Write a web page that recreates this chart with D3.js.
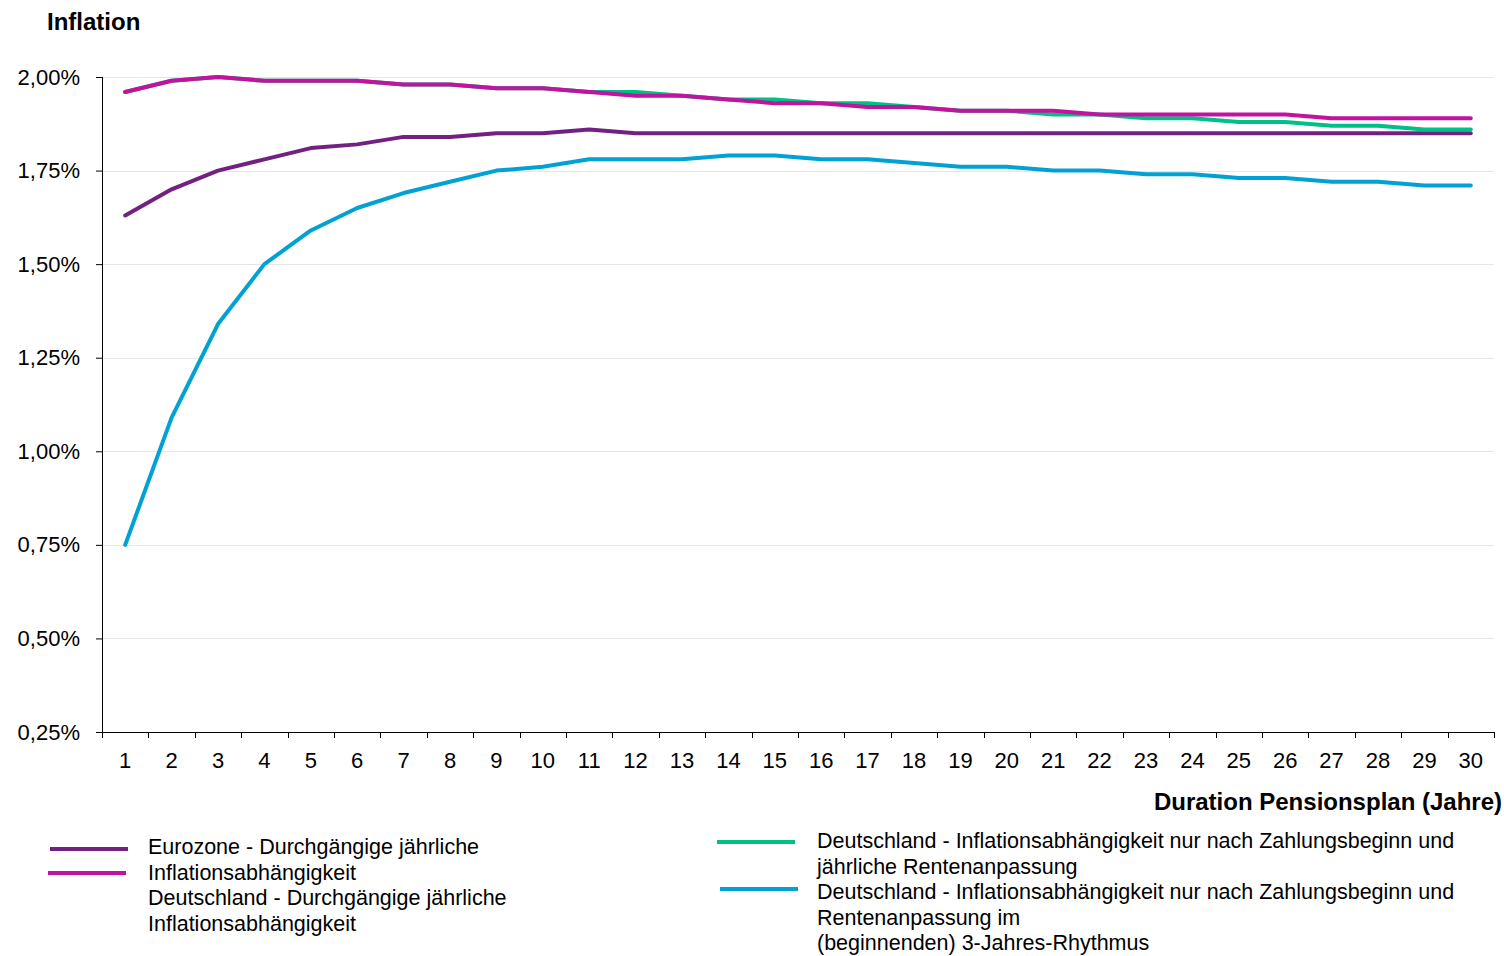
<!DOCTYPE html>
<html>
<head>
<meta charset="utf-8">
<script src="https://cdn.jsdelivr.net/npm/d3@7"></script>
<style>
  body { margin: 0; background: #fff; }
  svg text { font-family: "Liberation Sans", Arial, sans-serif; fill: #000; }
  .axis path, .axis line { stroke: #000; }
  .axis text { font-size: 22px; }
  .grid line { stroke: #e6e6e6; stroke-width: 1; }
  .series { fill: none; stroke-width: 4; stroke-linejoin: round; stroke-linecap: round; }
  .legend text { font-size: 21.5px; }
</style>
</head>
<body>
<script>
var years = d3.range(1, 31)
var yTicks = [0.25, 0.50, 0.75, 1.00, 1.25, 1.50, 1.75, 2.00]

var eurozone = [1.63,1.70,1.75,1.78,1.81,1.82,1.84,1.84,1.85,1.85,1.86,1.85,1.85,1.85,1.85,
                1.85,1.85,1.85,1.85,1.85,1.85,1.85,1.85,1.85,1.85,1.85,1.85,1.85,1.85,1.85]
var deAnnual = [1.96,1.99,2.00,1.99,1.99,1.99,1.98,1.98,1.97,1.97,1.96,1.95,1.95,1.94,1.93,
                1.93,1.92,1.92,1.91,1.91,1.91,1.90,1.90,1.90,1.90,1.90,1.89,1.89,1.89,1.89]
var dePayAnnual = [1.96,1.99,2.00,1.99,1.99,1.99,1.98,1.98,1.97,1.97,1.96,1.96,1.95,1.94,1.94,
                   1.93,1.93,1.92,1.91,1.91,1.90,1.90,1.89,1.89,1.88,1.88,1.87,1.87,1.86,1.86]
var dePay3Year = [0.75,1.09,1.34,1.50,1.59,1.65,1.69,1.72,1.75,1.76,1.78,1.78,1.78,1.79,1.79,
                  1.78,1.78,1.77,1.76,1.76,1.75,1.75,1.74,1.74,1.73,1.73,1.72,1.72,1.71,1.71]

var seriesNames = [
  ["Eurozone - Durchgängige jährliche", "Inflationsabhängigkeit"],
  ["Deutschland - Durchgängige jährliche", "Inflationsabhängigkeit"],
  ["Deutschland - Inflationsabhängigkeit nur nach Zahlungsbeginn und", "jährliche Rentenanpassung"],
  ["Deutschland - Inflationsabhängigkeit nur nach Zahlungsbeginn und", "Rentenanpassung im", "(beginnenden) 3-Jahres-Rhythmus"]
]
var colors = ["#722182", "#c2139f", "#00c08a", "#00a2d4"]

var width = 1504, height = 956
var margin = {left: 102, right: 10, top: 77, bottom: 224}
var plotW = 30 * 46.4
var plotH = height - margin.top - margin.bottom

var svg = d3.select("body").append("svg")
    .attr("width", width)
    .attr("height", height)

var x = d3.scaleBand()
    .domain(years)
    .range([0, plotW])
    .padding(0)
var y = d3.scaleLinear()
    .domain([0.25, 2.00])
    .range([plotH, 0])

var chartGroup = svg.append("g")
    .attr("transform", "translate(" + margin.left + "," + margin.top + ")")

//GRID
chartGroup.append("g").attr("class", "grid")
    .selectAll("line")
    .data(yTicks.slice(1))
    .enter().append("line")
    .attr("x1", 0)
    .attr("x2", plotW)
    .attr("y1", function(d) { return Math.round(y(d)) + 0.5 })
    .attr("y2", function(d) { return Math.round(y(d)) + 0.5 })

//AXES
var fmt = function(d) { return d3.format(".2f")(d).replace(".", ",") + "%" }
var yAxis = d3.axisLeft(y).tickValues(yTicks).tickFormat(fmt).tickSize(6).tickPadding(16)
chartGroup.append("g").attr("class", "y axis").call(yAxis)
    .call(function(g) { g.select(".domain").attr("stroke", "#555").attr("d", "M0.5,0V" + plotH) })

var xAxis = d3.axisBottom(x).tickSize(0).tickPadding(20)
var xg = chartGroup.append("g").attr("class", "x axis")
    .attr("transform", "translate(0," + plotH + ")")
    .call(xAxis)
xg.select(".domain").attr("d", "M0,0.5H" + plotW)
xg.selectAll(".boundary")
    .data(d3.range(0, 31))
    .enter().append("line")
    .attr("class", "boundary")
    .attr("x1", function(d) { return Math.round(d * x.step()) + 0.5 })
    .attr("x2", function(d) { return Math.round(d * x.step()) + 0.5 })
    .attr("y1", 0)
    .attr("y2", 6)
    .attr("stroke", "#000")

//LINES
var line = d3.line()
    .x(function(d, i) { return x(years[i]) + x.bandwidth() / 2 })
    .y(function(d) { return y(d) })

var allSeries = [eurozone, deAnnual, dePayAnnual, dePay3Year]
var drawOrder = [0, 3, 2, 1]
chartGroup.selectAll("path.series")
    .data(drawOrder)
    .enter().append("path")
    .attr("class", "series")
    .attr("stroke", function(k) { return colors[k] })
    .attr("d", function(k) { return line(allSeries[k]) })

//TITLES
svg.append("text")
    .attr("x", 47)
    .attr("y", 30)
    .attr("font-size", 24)
    .attr("font-weight", "bold")
    .text("Inflation")

svg.append("text")
    .attr("x", 1502)
    .attr("y", 810)
    .attr("font-size", 24)
    .attr("font-weight", "bold")
    .attr("text-anchor", "end")
    .text("Duration Pensionsplan (Jahre)")

//LEGEND
var legend = svg.append("g").attr("class", "legend")
var legendPos = [
  {lx: 50, ly: 849, tx: 148, ty: 854},
  {lx: 48, ly: 873, tx: 148, ty: 905},
  {lx: 717, ly: 842, tx: 817, ty: 848},
  {lx: 720, ly: 889, tx: 817, ty: 899}
]
seriesNames.forEach(function(lines, k) {
  var p = legendPos[k]
  legend.append("line")
      .attr("x1", p.lx)
      .attr("x2", p.lx + 78)
      .attr("y1", p.ly)
      .attr("y2", p.ly)
      .attr("stroke", colors[k])
      .attr("stroke-width", 4)
  var t = legend.append("text")
      .attr("x", p.tx)
      .attr("y", p.ty)
  t.selectAll("tspan")
      .data(lines)
      .enter().append("tspan")
      .attr("x", p.tx)
      .attr("dy", function(d, i) { return i === 0 ? 0 : 25.5 })
      .text(function(d) { return d })
})
</script>
</body>
</html>
